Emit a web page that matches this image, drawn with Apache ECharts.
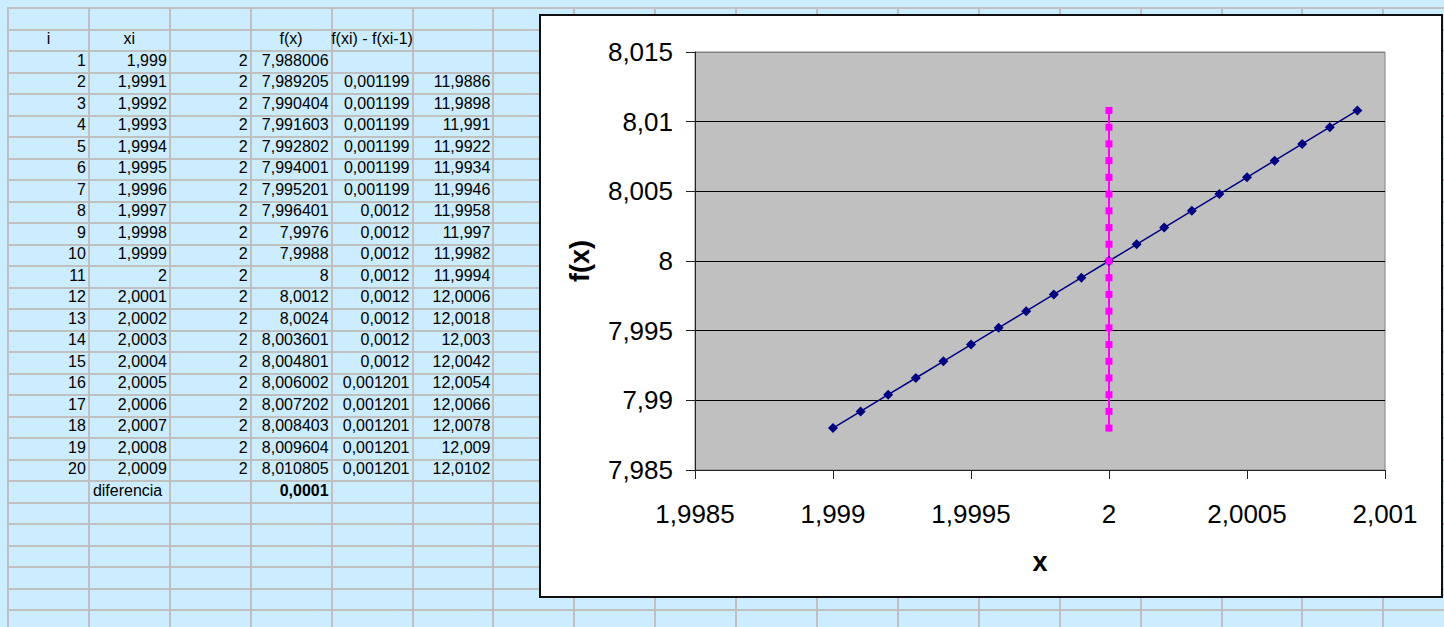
<!DOCTYPE html>
<html>
<head>
<meta charset="utf-8">
<title>f(x) cerca de x = 2</title>
<script src="https://cdn.jsdelivr.net/npm/echarts@6.0.0/dist/echarts.min.js"></script>
<style>
  html, body { margin: 0; padding: 0; width: 1444px; height: 627px; overflow: hidden;
    background: #CCECFF; font-family: "Liberation Sans", Arial, sans-serif; }
  #sheet { position: absolute; left: 0; top: 0; width: 1444px; height: 627px; }
  .vl { position: absolute; width: 2px; background: #C0C0C0; }
  .hl { position: absolute; height: 2px; background: #C0C0C0; }
  .cell { position: absolute; font-size: 16px; line-height: 21.5px; height: 21.5px;
    white-space: nowrap; color: #000; box-sizing: border-box;
    transform: scaleY(1.08); transform-origin: 50% 70%; }
  #box { position: absolute; left: 539px; top: 14px; width: 904px; height: 584px;
    box-sizing: border-box; border: 2px solid #111; background: #fff; }
  #chart { position: absolute; left: 0; top: 0; width: 1444px; height: 627px; }
</style>
</head>
<body>
<div id="sheet"></div>
<div id="box"></div>
<div id="chart"></div>
<script>
// Worksheet columns
const idx   = [1, 2, 3, 4, 5, 6, 7, 8, 9, 10, 11, 12, 13, 14, 15, 16, 17, 18, 19, 20];
const xi    = [1.999, 1.9991, 1.9992, 1.9993, 1.9994, 1.9995, 1.9996, 1.9997, 1.9998, 1.9999,
               2, 2.0001, 2.0002, 2.0003, 2.0004, 2.0005, 2.0006, 2.0007, 2.0008, 2.0009];
const colC  = [2, 2, 2, 2, 2, 2, 2, 2, 2, 2, 2, 2, 2, 2, 2, 2, 2, 2, 2, 2];
const fx    = [7.988006, 7.989205, 7.990404, 7.991603, 7.992802, 7.994001, 7.995201, 7.996401, 7.9976, 7.9988,
               8, 8.0012, 8.0024, 8.003601, 8.004801, 8.006002, 8.007202, 8.008403, 8.009604, 8.010805];
const diff  = [null, 0.001199, 0.001199, 0.001199, 0.001199, 0.001199, 0.001199, 0.0012, 0.0012, 0.0012,
               0.0012, 0.0012, 0.0012, 0.0012, 0.0012, 0.001201, 0.001201, 0.001201, 0.001201, 0.001201];
const ratio = [null, 11.9886, 11.9898, 11.991, 11.9922, 11.9934, 11.9946, 11.9958, 11.997, 11.9982,
               11.9994, 12.0006, 12.0018, 12.003, 12.0042, 12.0054, 12.0066, 12.0078, 12.009, 12.0102];
const headers   = ['i', 'xi', '', 'f(x)', 'f(xi) - f(xi-1)', ''];
const stepLabel = 'diferencia';
const stepValue = 0.0001;

// Axis ranges and tick steps
const xMin = 1.9985, xMax = 2.001, xStep = 0.0005;
const yMin = 7.985,  yMax = 8.015, yStep = 0.005;

const comma = v => (v === null || v === undefined) ? '' : String(v).replace('.', ',');
const tickFmt = v => String(Number(v.toFixed(6))).replace('.', ',');

// ---- spreadsheet grid ----
const sheet = document.getElementById('sheet');
const X0 = 8, CW = 80.9, Y0 = 8, RH = 21.5;
const colLeft = c => X0 + c * CW;
const rowTop = r => Y0 + r * RH;

for (let k = 0; k <= 17; k++) {
  const d = document.createElement('div');
  d.className = 'vl';
  d.style.left = (colLeft(k) - 1) + 'px';
  d.style.top = (Y0 - 1) + 'px';
  d.style.height = (627 - Y0 + 1) + 'px';
  sheet.appendChild(d);
}
for (let k = 0; k <= 28; k++) {
  const d = document.createElement('div');
  d.className = 'hl';
  d.style.top = (rowTop(k) - 1) + 'px';
  d.style.left = (X0 - 1) + 'px';
  d.style.width = (1444 - X0 + 1) + 'px';
  sheet.appendChild(d);
}

function cell(text, col, row, align, bold) {
  if (text === '') return;
  const d = document.createElement('div');
  d.className = 'cell';
  d.textContent = text;
  d.style.top = (rowTop(row) - 1.5) + 'px';
  if (align === 'right') {
    d.style.left = colLeft(col) + 'px';
    d.style.width = (CW - 3) + 'px';
    d.style.textAlign = 'right';
  } else if (align === 'center') {
    d.style.left = (colLeft(col) + CW / 2 - 100) + 'px';
    d.style.width = '200px';
    d.style.textAlign = 'center';
  } else {
    d.style.left = (colLeft(col) + 4) + 'px';
  }
  if (bold) d.style.fontWeight = 'bold';
  sheet.appendChild(d);
}

headers.forEach((h, c) => cell(h, c, 1, 'center'));
idx.forEach((n, i) => {
  const r = i + 2;
  cell(comma(n), 0, r, 'right');
  cell(comma(xi[i]), 1, r, 'right');
  cell(comma(colC[i]), 2, r, 'right');
  cell(comma(fx[i]), 3, r, 'right');
  cell(comma(diff[i]), 4, r, 'right');
  cell(comma(ratio[i]), 5, r, 'right');
});
cell(stepLabel, 1, 22, 'left');
cell(comma(stepValue), 3, 22, 'right', true);

// ---- chart ----
const chart = echarts.init(document.getElementById('chart'), null, { renderer: 'svg' });
const nTicks = Math.round((yMax - yMin) / yStep) + 1;
const gridColors = Array.from({ length: nTicks }, (_, i) => i === nTicks - 1 ? '#808080' : '#000');
const font = '"Liberation Sans", Arial, sans-serif';

chart.setOption({
  animation: false,
  textStyle: { fontFamily: font },
  grid: {
    left: 695, top: 52, right: 59, bottom: 157,
    show: true, backgroundColor: '#C0C0C0', borderColor: '#808080', borderWidth: 1,
    outerBoundsMode: 'none'
  },
  xAxis: {
    type: 'value', min: xMin, max: xMax, interval: xStep,
    name: 'x', nameLocation: 'middle', nameGap: 78,
    nameTextStyle: { fontSize: 27, fontWeight: 'bold', color: '#000', fontFamily: font },
    axisLine: { show: true, onZero: false, lineStyle: { color: '#222', width: 1 } },
    axisTick: { show: true, length: 9, lineStyle: { color: '#222', width: 1 } },
    axisLabel: { fontSize: 26, color: '#000', margin: 31, formatter: tickFmt, fontFamily: font },
    splitLine: { show: false }
  },
  yAxis: {
    type: 'value', min: yMin, max: yMax, interval: yStep,
    name: 'f(x)', nameLocation: 'middle', nameRotate: 90, nameGap: 102,
    nameTextStyle: { fontSize: 27, fontWeight: 'bold', color: '#000', fontFamily: font },
    axisLine: { show: true, onZero: false, lineStyle: { color: '#222', width: 1 } },
    axisTick: { show: true, length: 9, lineStyle: { color: '#222', width: 1 } },
    axisLabel: { fontSize: 26, color: '#000', margin: 22, formatter: tickFmt, fontFamily: font },
    splitLine: { show: true, lineStyle: { color: gridColors, width: 1 } }
  },
  series: [
    {
      name: 'f(x)', type: 'line',
      data: xi.map((x, i) => [x, fx[i]]),
      symbol: 'diamond', symbolSize: 10,
      itemStyle: { color: '#000080' },
      lineStyle: { color: '#000080', width: 1.5 }
    },
    {
      name: 'x = 2', type: 'line',
      data: colC.map((x, i) => [x, fx[i]]),
      symbol: 'rect', symbolSize: 7,
      itemStyle: { color: '#FF00FF' },
      lineStyle: { color: '#FF00FF', width: 2 }
    }
  ]
});
</script>
</body>
</html>
